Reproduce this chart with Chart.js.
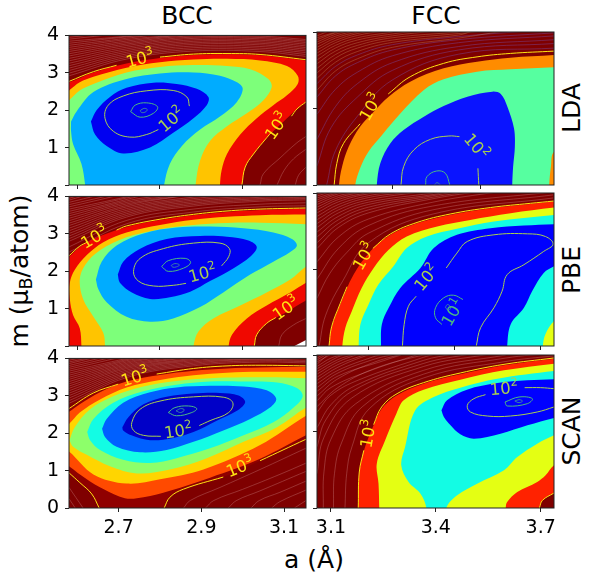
<!DOCTYPE html>
<html><head><meta charset="utf-8">
<script src="https://cdn.jsdelivr.net/npm/chart.js@4"></script>
<style>
html,body{margin:0;padding:0;background:#fff;width:590px;height:576px;overflow:hidden}
canvas{position:absolute}
.t{position:absolute;font-family:"DejaVu Sans";color:#000;white-space:nowrap;line-height:1;transform:translate(-50%,-50%);font-size:25px}
.r{transform:translate(-50%,-50%) rotate(-90deg)}
sub{font-size:.7em;vertical-align:-.25em;line-height:0}
</style></head><body>
<div class="t" style="left:187px;top:15px">BCC</div>
<div class="t" style="left:436px;top:15px">FCC</div>
<div class="t r" style="left:571px;top:108px">LDA</div>
<div class="t r" style="left:571px;top:270px">PBE</div>
<div class="t r" style="left:571px;top:431px">SCAN</div>
<div class="t r" style="left:19px;top:271px">m (μ<sub>B</sub>/atom)</div>
<div class="t" style="left:314px;top:559px">a (Å)</div>
<script>
// ---------- axis ticks ----------
const bccTicksUpper=[2.6,2.8,3.0], bccTicksLower=[2.7,2.9,3.1];
const fccTicksLda=[3.4,3.6], fccTicksPbe=[3.4,3.6,3.8], fccTicksScan=[3.1,3.4,3.7];
const mTicksLeft=[0,1,2,3,4], mTicksRight=[0,2,4];

// ---------- LDA / BCC ----------
const ldaBccRed=[[2.542,2.658],[2.58,2.745],[2.639,3.007],[2.719,3.251],[2.8,3.399],[2.881,3.477],[2.962,3.495],[3.042,3.469],[3.153,3.329],[3.196,3.225],[3.196,2.44],[3.153,2.222],[3.131,2.031],[3.099,1.699],[3.058,1.264],[3.026,.828],[3.006,.479],[2.998,0],[2.994,-.39],[2.542,-.39]];
const ldaBccOrange=[[2.542,2.222],[2.58,2.527],[2.606,2.745],[2.639,2.893],[2.719,3.137],[2.8,3.285],[2.881,3.355],[2.962,3.373],[3.042,3.329],[3.107,3.181],[3.133,2.92],[3.133,2.702],[3.107,2.397],[3.074,2.135],[3.034,1.787],[2.994,1.351],[2.962,.828],[2.949,.392],[2.945,0],[2.944,-.39],[2.542,-.39]];
const ldaBccGreen=[[2.542,1.961],[2.58,2.266],[2.606,2.527],[2.639,2.702],[2.719,3.007],[2.8,3.155],[2.881,3.207],[2.962,3.181],[3.018,3.094],[3.062,2.832],[3.07,2.615],[3.05,2.266],[3.01,1.917],[2.962,1.569],[2.921,1.177],[2.897,.654],[2.886,0],[2.885,-.39],[2.542,-.39]];
const ldaBccSky=[[2.585,1.699],[2.598,1.961],[2.639,2.484],[2.719,2.832],[2.8,2.981],[2.881,3.007],[2.945,2.92],[2.986,2.745],[3.0,2.571],[2.986,2.222],[2.945,1.83],[2.897,1.482],[2.853,1.046],[2.824,.566],[2.81,0],[2.808,-.39],[2.621,-.39],[2.619,0],[2.61,.566],[2.59,1.089],[2.585,1.438]];
const ldaBccBlue=[[2.633,1.699],[2.647,2.004],[2.679,2.353],[2.719,2.597],[2.784,2.737],[2.84,2.702],[2.889,2.571],[2.917,2.353],[2.913,2.135],[2.881,1.787],[2.832,1.394],[2.776,1.002],[2.711,.845],[2.671,1.046],[2.643,1.351]];
const ldaBcc100=[[2.796,1.482],[2.768,1.351],[2.727,1.281],[2.687,1.438],[2.667,1.787],[2.675,2.135],[2.711,2.379],[2.768,2.519],[2.832,2.527],[2.865,2.353],[2.871,2.109]];
const ldaBcc30=[[2.729,1.961],[2.74,2.135],[2.768,2.196],[2.794,2.092],[2.784,1.917],[2.752,1.813],[2.729,1.961]];
const ldaBcc10=[[2.752,1.987],[2.761,2.048],[2.769,2.022],[2.766,1.961],[2.756,1.935],[2.752,1.987]];
const ldaBcc1000=[[[2.58,2.77],[2.639,3.03],[2.695,3.2]],[[2.8,3.42],[2.881,3.5],[2.962,3.515],[3.042,3.49],[3.153,3.35]],[[2.998,0],[3.006,.479],[3.026,.828],[3.058,1.264],[3.07,1.42]],[[3.118,1.84],[3.131,2.031],[3.153,2.222]]];
const ldaBccHigh=[
[[2.58,2.92],[2.72,3.37],[2.88,3.58],[3.04,3.57],[3.153,3.44]],[[2.58,3.06],[2.72,3.46],[2.88,3.67],[3.04,3.66],[3.153,3.54]],
[[2.58,3.19],[2.72,3.55],[2.88,3.76],[3.04,3.75],[3.153,3.63]],[[2.58,3.32],[2.72,3.64],[2.88,3.84],[3.04,3.83],[3.153,3.72]],
[[2.58,3.45],[2.72,3.73],[2.88,3.92],[3.04,3.91],[3.153,3.81]],[[2.58,3.57],[2.72,3.81],[2.88,3.99],[3.04,3.98],[3.153,3.89]],
[[2.58,3.68],[2.72,3.89],[2.85,4.02]],[[2.58,3.79],[2.72,3.96],[2.78,4.02]],[[2.58,3.9],[2.68,4.02]],
[[2.58,2.99],[2.72,3.415],[2.88,3.625],[3.04,3.615],[3.153,3.49]],[[2.58,3.125],[2.72,3.505],[2.88,3.715],[3.04,3.705],[3.153,3.585]],
[[2.58,3.255],[2.72,3.595],[2.88,3.8],[3.04,3.79],[3.153,3.675]],[[2.58,3.385],[2.72,3.685],[2.88,3.88],[3.04,3.87],[3.153,3.765]],
[[2.58,3.51],[2.72,3.77],[2.88,3.955],[3.04,3.945],[3.153,3.85]],[[2.58,3.625],[2.72,3.85],[2.86,4.02]],[[2.58,3.735],[2.72,3.925],[2.8,4.03]],[[2.58,3.845],[2.72,3.98],[2.75,4.03]],[[2.58,3.95],[2.65,4.03]],
[[3.042,0],[3.05,.3],[3.09,.72],[3.13,1.12],[3.153,1.3]],[[3.083,0],[3.1,.39],[3.123,.7],[3.153,.96]],[[3.127,0],[3.135,.26],[3.153,.48]]];

// ---------- LDA / FCC ----------
const ldaFccOrange=[[3.278,-.39],[3.278,0],[3.285,.479],[3.3,1.002],[3.326,1.525],[3.357,1.917],[3.391,2.309],[3.44,2.702],[3.516,3.05],[3.592,3.225],[3.668,3.329],[3.767,3.399],[3.813,3.442],[3.813,-.39]];
const ldaFccMint=[[3.315,-.39],[3.315,0],[3.326,.436],[3.345,.872],[3.376,1.307],[3.418,1.874],[3.471,2.484],[3.516,2.763],[3.592,2.963],[3.668,3.024],[3.767,3.076],[3.813,3.094],[3.813,1.089],[3.767,.872],[3.76,.479],[3.756,0],[3.756,-.39]];
const ldaFccBlue=[[3.364,-.39],[3.364,0],[3.372,.566],[3.395,1.089],[3.425,1.438],[3.471,1.787],[3.516,2.065],[3.57,2.309],[3.627,2.44],[3.646,2.379],[3.661,2.048],[3.676,1.482],[3.678,1.002],[3.674,.479],[3.672,0],[3.672,-.39]];
const ldaFcc100=[[[3.419,0],[3.425,.479],[3.448,.915],[3.486,1.194],[3.528,1.281],[3.552,1.264]],[[3.594,.436],[3.596,0]]];
const ldaFcc30=[[3.475,0],[3.478,.218],[3.5,.366],[3.52,.305],[3.53,0]];
const ldaFcc10=[[3.495,0],[3.501,.061],[3.509,0]];
const ldaFcc1000=[[[3.267,0],[3.273,.56],[3.288,1.08],[3.326,1.6]],[[3.39,2.38],[3.44,2.83],[3.516,3.18],[3.592,3.35],[3.668,3.44],[3.767,3.5]]];
const ldaFccHigh=[
[[3.25,0],[3.27,.9],[3.32,1.8],[3.4,2.75],[3.55,3.42],[3.77,3.58]],[[3.228,.5],[3.26,1.5],[3.32,2.3],[3.4,3.0],[3.55,3.53],[3.77,3.7]],
[[3.228,1.2],[3.27,2.05],[3.32,2.65],[3.4,3.2],[3.55,3.62],[3.77,3.8]],[[3.228,1.85],[3.27,2.5],[3.32,2.95],[3.4,3.38],[3.55,3.72],[3.77,3.9]],
[[3.228,2.3],[3.27,2.85],[3.32,3.2],[3.4,3.53],[3.55,3.8],[3.77,3.98]],[[3.228,2.65],[3.27,3.1],[3.32,3.4],[3.4,3.67],[3.55,3.88],[3.7,4.02]]];
const ldaFccHighTop=[
[[3.228,2.93],[3.27,3.32],[3.32,3.58],[3.4,3.79],[3.55,3.96],[3.6,4.02]],[[3.228,3.17],[3.27,3.5],[3.32,3.72],[3.4,3.9],[3.5,4.03]],
[[3.228,3.37],[3.27,3.65],[3.32,3.85],[3.4,4.0]],[[3.228,3.53],[3.27,3.78],[3.32,3.96],[3.36,4.03]],
[[3.228,3.68],[3.27,3.89],[3.32,4.05]],[[3.228,3.8],[3.27,3.98],[3.29,4.03]],[[3.228,3.9],[3.26,4.05]],
[[3.228,2.48],[3.27,2.98],[3.32,3.3],[3.4,3.6],[3.55,3.84],[3.65,4.02]],[[3.228,2.79],[3.27,3.21],[3.32,3.49],[3.4,3.73],[3.55,3.92],[3.58,4.02]],
[[3.228,3.05],[3.27,3.41],[3.32,3.65],[3.4,3.85],[3.55,4.0]],[[3.228,3.27],[3.27,3.58],[3.32,3.79],[3.4,3.95],[3.46,4.03]],
[[3.228,3.45],[3.27,3.72],[3.32,3.91],[3.38,4.03]],[[3.228,3.6],[3.27,3.84],[3.32,4.0],[3.34,4.03]],[[3.228,3.74],[3.27,3.94],[3.3,4.03]],[[3.228,3.85],[3.28,4.03]]];

// ---------- PBE / BCC ----------
const pbeBccRed=[[2.542,-.39],[2.542,2.126],[2.58,2.386],[2.606,2.646],[2.639,2.863],[2.719,3.184],[2.8,3.367],[2.881,3.497],[2.962,3.584],[3.042,3.636],[3.153,3.67],[3.196,3.688],[3.196,1.432],[3.153,1.215],[3.107,.911],[3.058,.607],[3.034,.304],[3.028,0],[3.026,-.39]];
const pbeBccOrange=[[2.61,-.39],[2.61,0],[2.606,.477],[2.59,.824],[2.582,1.258],[2.582,1.692],[2.594,2.039],[2.623,2.43],[2.663,2.777],[2.719,3.037],[2.8,3.236],[2.881,3.375],[2.962,3.453],[3.042,3.497],[3.153,3.514],[3.196,3.514],[3.196,1.952],[3.153,1.692],[3.115,1.432],[3.058,1.085],[3.01,.738],[2.974,.304],[2.966,0],[2.966,-.39]];
const pbeBccGreen=[[2.667,-.39],[2.667,0],[2.663,.347],[2.639,.781],[2.614,1.258],[2.606,1.779],[2.619,2.169],[2.655,2.56],[2.719,2.907],[2.8,3.124],[2.881,3.236],[2.962,3.289],[3.042,3.297],[3.153,3.254],[3.196,3.21],[3.196,2.43],[3.153,2.126],[3.115,1.779],[3.058,1.432],[2.994,1.085],[2.929,.738],[2.893,.39],[2.881,0],[2.881,-.39]];
const pbeBccSky=[[2.645,1.779],[2.659,2.256],[2.695,2.69],[2.76,3.011],[2.84,3.167],[2.921,3.193],[3.002,3.15],[3.074,3.037],[3.119,2.863],[3.131,2.69],[3.115,2.516],[3.074,2.256],[3.018,1.909],[2.953,1.432],[2.897,1.041],[2.832,.738],[2.776,.651],[2.719,.781],[2.671,1.171],[2.651,1.518]];
const pbeBccBlue=[[2.698,1.909],[2.711,2.256],[2.752,2.603],[2.816,2.863],[2.897,2.941],[2.962,2.924],[3.014,2.82],[3.034,2.646],[3.018,2.386],[2.978,2.082],[2.921,1.735],[2.873,1.449],[2.824,1.302],[2.776,1.258],[2.732,1.432],[2.703,1.692]];
const pbeBccBlank=[[3.153,.16],[3.125,0],[3.153,0]];
const pbeBcc100=[[2.863,1.675],[2.832,1.623],[2.784,1.605],[2.748,1.735],[2.736,1.996],[2.752,2.343],[2.808,2.603],[2.881,2.751],[2.945,2.751],[2.968,2.603],[2.966,2.386],[2.949,2.143]];
const pbeBcc30=[[2.804,2.126],[2.82,2.282],[2.861,2.343],[2.874,2.23],[2.857,2.082],[2.82,1.996],[2.804,2.126]];
const pbeBcc10=[[2.827,2.152],[2.836,2.204],[2.847,2.169],[2.84,2.117],[2.831,2.108],[2.827,2.152]];
const pbeBcc1000=[[[2.58,2.41],[2.606,2.67],[2.625,2.78]],[[2.695,3.1],[2.719,3.21],[2.8,3.39],[2.881,3.52],[2.962,3.61],[3.042,3.66],[3.153,3.69]],[[3.028,0],[3.034,.304],[3.058,.607],[3.08,.76]]];
const pbeBccHigh=[
[[2.58,2.51],[2.72,3.27],[2.88,3.58],[3.04,3.72],[3.153,3.75]],[[2.58,2.65],[2.72,3.36],[2.88,3.66],[3.04,3.79],[3.153,3.83]],
[[2.58,2.8],[2.72,3.45],[2.88,3.74],[3.04,3.87],[3.153,3.91]],[[2.58,2.94],[2.72,3.54],[2.88,3.82],[3.04,3.94],[3.153,3.98]],
[[2.58,3.08],[2.72,3.63],[2.88,3.9],[3.04,4.01],[3.153,4.05]],[[2.58,3.22],[2.72,3.72],[2.88,3.98],[2.95,4.04]],
[[2.58,3.35],[2.72,3.8],[2.88,4.05]],[[2.58,3.48],[2.72,3.88],[2.8,4.02]],[[2.58,3.6],[2.72,3.96],[2.75,4.03]],
[[2.58,3.72],[2.7,4.03]],[[2.58,3.84],[2.65,4.03]],[[2.58,3.95],[2.6,4.01]],
[[2.58,2.87],[2.72,3.495],[2.88,3.78],[3.04,3.905],[3.153,3.945]],[[2.58,3.01],[2.72,3.585],[2.88,3.86],[3.04,3.975],[3.153,4.02]],
[[2.58,3.15],[2.72,3.675],[2.88,3.94],[3.0,4.04]],[[2.58,3.285],[2.72,3.76],[2.86,4.02]],[[2.58,3.415],[2.72,3.84],[2.84,4.03]],
[[2.58,3.54],[2.72,3.92],[2.76,4.03]],[[2.58,3.66],[2.72,3.99],[2.73,4.03]],[[2.58,3.78],[2.68,4.03]],[[2.58,3.9],[2.62,4.03]],
[[3.087,0],[3.095,.304],[3.123,.564],[3.153,.737]]];

// ---------- PBE / FCC ----------
const pbeFccRed=[[3.308,-.39],[3.308,0],[3.314,.477],[3.334,1.085],[3.365,1.866],[3.404,2.473],[3.451,2.907],[3.513,3.21],[3.59,3.427],[3.684,3.601],[3.777,3.714],[3.832,3.775],[3.878,3.818],[3.878,-.39]];
const pbeFccYellow=[[3.339,-.39],[3.339,0],[3.346,.477],[3.361,.911],[3.384,1.518],[3.412,2.039],[3.447,2.516],[3.489,2.863],[3.56,3.124],[3.637,3.297],[3.731,3.471],[3.832,3.618],[3.878,3.67],[3.878,-.39]];
const pbeFccCyan=[[3.377,-.39],[3.377,0],[3.381,.564],[3.4,1.085],[3.423,1.605],[3.458,2.082],[3.489,2.56],[3.536,2.863],[3.606,3.063],[3.692,3.254],[3.832,3.427],[3.878,3.471],[3.878,-.39]];
const pbeFccBlue=[[3.429,-.39],[3.429,0],[3.431,.564],[3.447,.998],[3.474,1.518],[3.521,2.039],[3.552,2.56],[3.606,2.907],[3.684,3.08],[3.762,3.15],[3.832,3.184],[3.878,3.21],[3.878,2.43],[3.832,2.082],[3.808,1.909],[3.781,1.432],[3.762,.998],[3.731,.564],[3.723,0],[3.723,-.39]];
const pbeFccCorner=[[3.806,-.39],[3.806,0],[3.812,.304],[3.832,.651],[3.878,.998],[3.878,-.39]];
const pbeFcc100=[[[3.479,0],[3.483,.564],[3.493,1.041],[3.511,1.302]],[[3.581,2.039],[3.606,2.43],[3.63,2.733],[3.692,2.907],[3.77,2.933],[3.812,2.863],[3.83,2.664],[3.808,2.473],[3.762,2.126],[3.723,1.866],[3.711,1.432],[3.692,.998],[3.661,.477],[3.651,0]]];
const pbeFcc10=[[3.62,1.215],[3.598,1.328],[3.575,1.258],[3.556,.998],[3.556,.738],[3.571,.564]];
const pbeFcc3=[[3.579,1.015],[3.584,1.085],[3.591,1.015],[3.586,.928],[3.579,1.015]];
const pbeFcc1000=[[[3.308,0],[3.314,.5],[3.334,1.11],[3.35,1.55]],[[3.41,2.55],[3.451,2.93],[3.513,3.23],[3.59,3.45],[3.684,3.62],[3.777,3.73],[3.832,3.79]]];
const pbeFccHigh=[
[[3.285,0],[3.3,.8],[3.34,1.7],[3.4,2.7],[3.55,3.45],[3.83,3.87]],[[3.28,1.25],[3.31,1.9],[3.35,2.45],[3.4,2.95],[3.55,3.56],[3.83,3.95]],
[[3.28,1.75],[3.33,2.55],[3.4,3.15],[3.55,3.66],[3.83,4.03]],[[3.28,2.2],[3.33,2.85],[3.4,3.32],[3.55,3.76],[3.7,4.03]],
[[3.28,2.55],[3.33,3.1],[3.4,3.48],[3.55,3.85],[3.65,4.03]],[[3.28,2.85],[3.33,3.3],[3.4,3.63],[3.55,3.93],[3.6,4.03]],
[[3.28,3.1],[3.33,3.48],[3.4,3.76],[3.55,4.0]],[[3.28,3.3],[3.33,3.63],[3.4,3.88],[3.5,4.03]],
[[3.28,3.48],[3.33,3.77],[3.4,3.98],[3.45,4.03]],[[3.28,3.63],[3.33,3.88],[3.4,4.06]],
[[3.28,3.76],[3.33,3.98],[3.36,4.03]],[[3.28,3.87],[3.33,4.05]],[[3.28,3.97],[3.3,4.03]],
[[3.28,2.7],[3.33,3.2],[3.4,3.56],[3.55,3.89],[3.62,4.02]],[[3.28,2.98],[3.33,3.39],[3.4,3.7],[3.55,3.96],[3.58,4.03]],
[[3.28,3.2],[3.33,3.56],[3.4,3.82],[3.52,4.03]],[[3.28,3.39],[3.33,3.7],[3.4,3.93],[3.47,4.03]],[[3.28,3.56],[3.33,3.83],[3.4,4.02]],[[3.28,3.7],[3.33,3.93],[3.38,4.03]],[[3.28,3.82],[3.33,4.02]],[[3.28,3.92],[3.31,4.03]]];

// ---------- SCAN / BCC ----------
const scanBccBand=[[2.542,2.4],[2.58,2.658],[2.639,3.076],[2.699,3.312],[2.792,3.582],[2.881,3.73],[2.962,3.8],[3.042,3.817],[3.153,3.8],[3.196,3.8],[3.196,2.1],[3.153,1.839],[3.042,1.264],[2.953,.828],[2.857,.505],[2.824,.288],[2.81,0],[2.805,-.4],[2.66,-.4],[2.653,0],[2.635,.375],[2.606,.68],[2.58,.941],[2.542,1.2]];
const scanBccRed=[[2.542,2.379],[2.58,2.571],[2.606,2.771],[2.655,3.094],[2.719,3.381],[2.8,3.556],[2.881,3.669],[2.962,3.73],[3.042,3.756],[3.153,3.774],[3.196,3.774],[3.196,2.161],[3.153,1.943],[3.042,1.316],[2.921,.81],[2.824,.462],[2.76,.288],[2.715,.261],[2.663,.505],[2.623,.767],[2.58,1.116],[2.542,1.421]];
const scanBccYellow=[[2.542,1.943],[2.58,2.248],[2.606,2.553],[2.655,2.902],[2.719,3.225],[2.8,3.425],[2.881,3.547],[2.962,3.617],[3.042,3.643],[3.153,3.643],[3.196,3.643],[3.196,2.684],[3.153,2.466],[3.042,1.682],[2.905,1.028],[2.8,.767],[2.719,.654],[2.639,.898],[2.58,1.508],[2.542,1.769]];
const scanBccGreen=[[2.581,1.813],[2.594,2.161],[2.631,2.641],[2.687,2.989],[2.76,3.251],[2.84,3.399],[2.921,3.469],[3.002,3.495],[3.083,3.495],[3.153,3.469],[3.196,3.442],[3.196,2.902],[3.153,2.684],[3.083,2.161],[3.002,1.769],[2.913,1.333],[2.824,1.028],[2.744,.924],[2.679,1.116],[2.623,1.421],[2.59,1.638]];
const scanBccCyan=[[2.624,2.031],[2.639,2.379],[2.687,2.815],[2.76,3.12],[2.84,3.294],[2.921,3.381],[3.002,3.381],[3.083,3.355],[3.131,3.207],[3.145,2.989],[3.123,2.684],[3.074,2.292],[3.002,1.943],[2.921,1.595],[2.84,1.333],[2.776,1.203],[2.711,1.29],[2.655,1.551],[2.631,1.813]];
const scanBccMid=[[2.66,2.118],[2.671,2.379],[2.711,2.815],[2.776,3.094],[2.84,3.225],[2.921,3.268],[3.002,3.251],[3.058,3.146],[3.081,2.919],[3.066,2.684],[3.018,2.379],[2.953,2.074],[2.881,1.769],[2.816,1.551],[2.752,1.49],[2.695,1.638],[2.667,1.9]];
const scanBccNavy=[[2.709,2.161],[2.723,2.423],[2.76,2.771],[2.816,2.972],[2.881,3.059],[2.945,3.076],[2.99,3.007],[3.006,2.832],[2.986,2.597],[2.937,2.336],[2.881,2.031],[2.832,1.874],[2.776,1.813],[2.731,1.943],[2.711,2.074]];
const scanBcc100=[[2.802,1.917],[2.76,1.943],[2.736,2.074],[2.732,2.292],[2.752,2.641],[2.8,2.859],[2.881,2.972],[2.953,2.963],[2.976,2.815],[2.966,2.553],[2.921,2.336],[2.895,2.205]];
const scanBcc30=[[2.82,2.553],[2.836,2.684],[2.869,2.728],[2.889,2.658],[2.877,2.553],[2.84,2.466],[2.82,2.553]];
const scanBcc10=[[2.839,2.597],[2.85,2.658],[2.859,2.623],[2.85,2.553],[2.839,2.597]];
const scanBcc1000=[[[2.58,2.658],[2.639,3.076],[2.699,3.312]],[[2.792,3.582],[2.881,3.73],[2.962,3.8],[3.042,3.817],[3.153,3.8]],[[2.58,.941],[2.606,.68],[2.635,.375],[2.653,0]],[[2.81,0],[2.824,.288],[2.857,.505],[2.953,.828]],[[3.042,1.264],[3.153,1.839]]];
const scanBccHigh=[
[[2.58,2.8],[2.72,3.49],[2.88,3.8],[3.04,3.9],[3.153,3.88]],[[2.58,2.94],[2.72,3.57],[2.88,3.87],[3.04,3.97],[3.153,3.95]],
[[2.58,3.07],[2.72,3.65],[2.88,3.94],[3.04,4.03]],[[2.58,3.2],[2.72,3.73],[2.88,4.01]],[[2.58,3.32],[2.72,3.8],[2.85,4.03]],
[[2.58,3.44],[2.72,3.87],[2.8,4.03]],[[2.58,3.55],[2.72,3.94],[2.76,4.02]],[[2.58,3.66],[2.72,4.0]],[[2.58,3.76],[2.68,4.02]],[[2.58,3.86],[2.64,4.02]],[[2.58,3.95],[2.61,4.02]],
[[2.58,2.87],[2.72,3.53],[2.88,3.835],[3.04,3.935],[3.153,3.915]],[[2.58,3.005],[2.72,3.61],[2.88,3.905],[3.04,4.0]],[[2.58,3.135],[2.72,3.69],[2.88,3.975],[2.95,4.02]],
[[2.58,3.26],[2.72,3.765],[2.86,4.02]],[[2.58,3.38],[2.72,3.835],[2.82,4.02]],[[2.58,3.495],[2.72,3.905],[2.78,4.02]],[[2.58,3.605],[2.72,3.97],[2.74,4.02]],[[2.58,3.71],[2.7,4.02]],[[2.58,3.81],[2.66,4.02]],[[2.58,3.905],[2.63,4.02]],
[[2.857,0],[2.873,.2],[2.945,.55],[3.042,1.03],[3.153,1.6]],[[2.91,0],[2.93,.2],[3.0,.5],[3.09,.9],[3.153,1.2]],[[2.965,0],[2.985,.2],[3.04,.45],[3.153,.98]],[[3.02,0],[3.04,.2],[3.09,.42],[3.153,.72]],[[3.07,0],[3.09,.17],[3.153,.48]],[[3.125,0],[3.153,.2]],
[[2.58,.55],[2.614,0]],[[2.58,.25],[2.595,0]]];

// ---------- SCAN / FCC ----------
const scanFccRed=[[3.178,-.5],[3.178,0],[3.181,.898],[3.193,1.464],[3.222,2.161],[3.245,2.597],[3.289,2.946],[3.365,3.251],[3.47,3.495],[3.595,3.73],[3.738,3.904],[3.796,3.948],[3.796,-.5]];
const scanFccYellow=[[3.238,-.5],[3.238,0],[3.236,.636],[3.231,1.159],[3.255,1.769],[3.287,2.466],[3.308,2.815],[3.365,3.094],[3.47,3.355],[3.595,3.599],[3.738,3.774],[3.796,3.817],[3.796,-.5]];
const scanFccCyan=[[3.373,-.5],[3.373,0],[3.356,.375],[3.322,.68],[3.301,1.116],[3.312,1.595],[3.341,2.553],[3.394,2.902],[3.47,3.146],[3.576,3.381],[3.738,3.582],[3.796,3.617],[3.796,2.161],[3.738,1.9],[3.69,1.682],[3.633,1.333],[3.595,.985],[3.518,.636],[3.461,.331],[3.43,0],[3.43,-.5]];
const scanFccBlue=[[3.416,2.553],[3.432,2.815],[3.489,3.094],[3.576,3.268],[3.662,3.338],[3.738,3.364],[3.796,3.381],[3.796,2.466],[3.738,2.353],[3.662,2.161],[3.585,1.943],[3.509,1.813],[3.47,1.926],[3.442,2.161],[3.423,2.379]];
const scanFccCornerRed=[[3.6,-.5],[3.6,0],[3.604,.157],[3.633,.418],[3.69,.68],[3.714,.854],[3.738,1.116],[3.796,1.421],[3.796,-.5]];
const scanFccCornerDark=[[3.696,-.5],[3.696,0],[3.705,.2],[3.738,.392],[3.796,.549],[3.796,-.5]];
const scanFcc100=[[[3.542,2.963],[3.509,2.859],[3.49,2.684],[3.499,2.51],[3.547,2.405],[3.614,2.405],[3.69,2.51],[3.738,2.641]],[[3.654,3.146],[3.7,3.146],[3.738,3.12]]];
const scanFcc30=[[3.598,2.771],[3.638,2.902],[3.676,2.859],[3.662,2.728],[3.604,2.667],[3.598,2.771]];
const scanFcc10=[[3.626,2.797],[3.638,2.832],[3.648,2.797],[3.638,2.754],[3.626,2.797]];
const scanFcc1000=[[[3.178,0],[3.181,.941],[3.194,1.508]],[[3.222,2.18],[3.245,2.641],[3.289,2.989],[3.365,3.277],[3.47,3.53],[3.595,3.756],[3.738,3.922]],[[3.696,0],[3.705,.2],[3.738,.392]]];
const scanFccHigh=[
[[3.14,0],[3.145,.9],[3.16,1.6],[3.21,2.6],[3.365,3.4],[3.6,3.83],[3.738,3.98]],[[3.107,0],[3.11,.9],[3.13,1.7],[3.19,2.65],[3.365,3.5],[3.6,3.92],[3.738,4.05]],
[[3.078,0],[3.08,.95],[3.1,1.8],[3.17,2.72],[3.365,3.6],[3.6,4.0]],[[3.06,.9],[3.08,1.85],[3.16,2.88],[3.365,3.7],[3.55,4.02]],
[[3.06,1.6],[3.085,2.3],[3.16,3.05],[3.365,3.78],[3.5,4.03]],[[3.06,2.1],[3.1,2.7],[3.17,3.2],[3.365,3.86],[3.45,4.03]],
[[3.06,2.5],[3.1,2.95],[3.18,3.35],[3.365,3.94],[3.4,4.03]],[[3.06,2.8],[3.1,3.15],[3.2,3.55],[3.35,4.02]],
[[3.06,3.05],[3.12,3.45],[3.25,3.85],[3.3,4.0]],[[3.06,3.25],[3.12,3.6],[3.22,3.95],[3.25,4.02]],
[[3.06,3.42],[3.12,3.75],[3.2,4.02]],[[3.06,3.57],[3.12,3.88],[3.17,4.03]],[[3.06,3.7],[3.1,3.92],[3.14,4.03]],[[3.06,3.82],[3.1,4.02]],[[3.06,3.92],[3.08,4.02]],
[[3.06,2.65],[3.12,3.15],[3.22,3.63],[3.35,3.97],[3.4,4.03]],[[3.06,2.93],[3.12,3.38],[3.22,3.8],[3.3,4.02]],[[3.06,3.15],[3.12,3.53],[3.22,3.88],[3.28,4.02]],
[[3.06,3.34],[3.12,3.68],[3.2,3.98],[3.23,4.03]],[[3.06,3.5],[3.12,3.82],[3.18,4.03]],[[3.06,3.64],[3.12,3.95],[3.15,4.03]],[[3.06,3.76],[3.09,4.0]],[[3.06,3.87],[3.09,4.03]]];

// ---------- contour label anchors: [x, y, exponent, rotation] ----------
const ldaBccLabels=[[2.752,3.37,3,-15],[3.083,1.57,3,-55],[2.828,1.74,2,-40]];
const ldaFccLabels=[[3.351,2.03,3,-60],[3.59,1.0,2,50]];
const pbeBccLabels=[[2.642,2.9,3,-30],[3.105,1.0,3,-35],[2.903,1.935,2,-15]];
const pbeFccLabels=[[3.39,2.34,3,-60],[3.536,1.78,2,-50],[3.597,.87,1,-60]];
const scanBccLabels=[[2.74,3.49,3,-18],[2.994,1.09,3,-22],[2.844,2.05,2,-8]];
const scanFccLabels=[[3.207,1.94,3,-80],[3.595,3.12,2,-5]];

// ---------- colours ----------
const DARK='#7f0000',BAND='#900000',RED='#f00800',ORANGE='#ffc400',GREEN='#7dff7a',SKY='#00acff',BLUE='#0000f1',
 DORANGE='#ff8c00',MINT='#56ffa0',BLUE2='#0a14ff',RED2='#ff2200',YEL='#e4ff13',CYAN='#13fce4',BLUE3='#0000ff',
 ORED='#ff4a00',GOLD='#ffd500',LIME='#8dff6a',MIDBLUE='#0060ff',NAVY='#0000c8',
 C1000='#ffe312',C100='#a8d050',C30='#4cb884',C10='#3a7fa8',HIGH='rgba(226,170,170,.42)',HIGHP='rgba(120,70,150,.7)',HIGHT='rgba(205,150,100,.5)';

const fill=(d,c,t=.35)=>({d,c,t,f:true});
const line=(d,c,w=1)=>({d,c,w});
const many=(arr,c,w)=>arr.map(d=>line(d,c,w));

const panels=[
{L:69,T:32,xMin:2.58,xMax:3.153,xT:bccTicksUpper,yT:mTicksLeft,xLab:false,yLab:v=>v===0?'':String(v),lab:ldaBccLabels,
 layers:[...many(ldaBccHigh,HIGH,.7),fill(ldaBccRed,RED),fill(ldaBccOrange,ORANGE),fill(ldaBccGreen,GREEN),fill(ldaBccSky,SKY),fill(ldaBccBlue,BLUE),
 ...many(ldaBcc1000,C1000,1),line(ldaBcc100,C100),line(ldaBcc30,C30),line(ldaBcc10,C10)]},
{L:317,T:32,xMin:3.228,xMax:3.767,xT:fccTicksLda,yT:mTicksRight,xLab:false,yLab:null,lab:ldaFccLabels,
 layers:[...many(ldaFccHigh,HIGHP,.7),...many(ldaFccHighTop,HIGHT,.7),fill(ldaFccOrange,DORANGE),fill(ldaFccMint,MINT),fill(ldaFccBlue,BLUE2),
 ...many(ldaFcc1000,C1000,1),...many(ldaFcc100,C100),line(ldaFcc30,C30),line(ldaFcc10,C10)]},
{L:69,T:193,xMin:2.58,xMax:3.153,xT:bccTicksUpper,yT:mTicksLeft,xLab:false,yLab:v=>v===0?'':String(v),lab:pbeBccLabels,
 layers:[...many(pbeBccHigh,HIGH,.7),fill(pbeBccRed,RED),fill(pbeBccOrange,ORANGE),fill(pbeBccGreen,GREEN),fill(pbeBccSky,SKY),fill(pbeBccBlue,BLUE),fill(pbeBccBlank,'#fff',0),
 ...many(pbeBcc1000,C1000,1),line(pbeBcc100,C100),line(pbeBcc30,C30),line(pbeBcc10,C10)]},
{L:317,T:193,xMin:3.28,xMax:3.832,xT:fccTicksPbe,yT:mTicksRight,xLab:false,yLab:null,lab:pbeFccLabels,
 layers:[...many(pbeFccHigh,HIGH,.7),fill(pbeFccRed,RED2),fill(pbeFccYellow,YEL),fill(pbeFccCyan,CYAN),fill(pbeFccBlue,BLUE3),fill(pbeFccCorner,YEL),
 ...many(pbeFcc1000,C1000,1),...many(pbeFcc100,C100),line(pbeFcc10,C30),line(pbeFcc3,C10)]},
{L:69,T:355,xMin:2.58,xMax:3.153,xT:bccTicksLower,yT:mTicksLeft,xLab:true,yLab:v=>String(v),lab:scanBccLabels,
 layers:[fill(scanBccBand,BAND),...many(scanBccHigh,HIGH,.7),fill(scanBccRed,ORED),fill(scanBccYellow,GOLD),fill(scanBccGreen,LIME),fill(scanBccCyan,CYAN),fill(scanBccMid,MIDBLUE),fill(scanBccNavy,NAVY),
 ...many(scanBcc1000,C1000,1),line(scanBcc100,C100),line(scanBcc30,C30),line(scanBcc10,C10)]},
{L:317,T:355,xMin:3.06,xMax:3.738,xT:fccTicksScan,yT:mTicksRight,xLab:true,yLab:null,lab:scanFccLabels,
 layers:[...many(scanFccHigh,HIGH,.7),fill(scanFccRed,RED2),fill(scanFccYellow,YEL),fill(scanFccCyan,CYAN),fill(scanFccBlue,BLUE3),fill(scanFccCornerRed,RED2),fill(scanFccCornerDark,DARK),
 ...many(scanFcc1000,C1000,1),...many(scanFcc100,C100),line(scanFcc30,C30),line(scanFcc10,C10)]}
];

const W=237,H=153,ML=45,MT=14,MR=8,MB=34;
const frame={id:'frame',
 beforeDatasetsDraw(c){const a=c.chartArea,x=c.ctx;x.save();x.fillStyle=DARK;x.fillRect(a.left,a.top,a.width,a.height);x.restore();},
 afterDraw(c,_,o){const a=c.chartArea,x=c.ctx,sx=c.scales.x,sy=c.scales.y;
  x.save();x.beginPath();x.rect(a.left,a.top,a.width,a.height);x.clip();
  x.textBaseline='middle';
  for(const [vx,vy,e,rot] of o.labels){
   x.save();x.translate(sx.getPixelForValue(vx),sy.getPixelForValue(vy));x.rotate(rot*Math.PI/180);
   x.fillStyle=e===3?C1000:e===2?C100:C30;
   x.font='16.5px "DejaVu Sans"';const w=x.measureText('10').width;
   x.font='11.5px "DejaVu Sans"';const w2=x.measureText(String(e)).width;
   x.textAlign='left';
   x.font='16.5px "DejaVu Sans"';x.fillText('10',-(w+w2)/2,1);
   x.font='11.5px "DejaVu Sans"';x.fillText(String(e),-(w+w2)/2+w,-5);
   x.restore();
  }
  x.restore();
  x.save();x.strokeStyle='#222';x.lineWidth=1;x.strokeRect(a.left,a.top,a.width,a.height);x.restore();
 }};

panels.forEach(p=>{
 const cv=document.createElement('canvas');
 cv.width=W+ML+MR;cv.height=H+MT+MB;
 cv.style.left=(p.L-ML)+'px';cv.style.top=(p.T-MT)+'px';cv.style.width=cv.width+'px';cv.style.height=cv.height+'px';
 document.body.appendChild(cv);
 const datasets=p.layers.map((l,i)=>{
  const closed=l.f&&l.t>0?[...l.d,l.d[0]]:l.d;
  return {data:closed.map(([x,y])=>({x,y})),order:1000-i,showLine:true,pointRadius:0,
   borderWidth:l.f?0:l.w,borderColor:l.c,backgroundColor:l.c,fill:l.f?'shape':false,
   tension:l.t!==undefined?l.t:.4,capBezierPoints:false};
 });
 new Chart(cv,{type:'scatter',data:{datasets},plugins:[frame],options:{
  responsive:false,animation:false,events:[],
  layout:{autoPadding:false,padding:{top:MT,right:MR,left:0,bottom:0}},
  plugins:{legend:{display:false},tooltip:{enabled:false},title:{display:false},frame:{labels:p.lab}},
  scales:{
   x:{type:'linear',min:p.xMin,max:p.xMax,
    afterBuildTicks:s=>{s.ticks=p.xT.map(value=>({value}));},afterFit:s=>{s.height=MB;},
    grid:{drawOnChartArea:false,tickLength:4,color:'#222',lineWidth:1},border:{display:false},
    ticks:{display:p.xLab,autoSkip:false,maxRotation:0,padding:5,color:'#000',font:{family:'DejaVu Sans',size:19},callback:v=>Number(v).toFixed(1)}},
   y:{type:'linear',min:0,max:4,
    afterBuildTicks:s=>{s.ticks=p.yT.map(value=>({value}));},afterFit:s=>{s.width=ML;},
    grid:{drawOnChartArea:false,tickLength:4,color:'#222',lineWidth:1},border:{display:false},
    ticks:{display:!!p.yLab,autoSkip:false,padding:6,color:'#000',font:{family:'DejaVu Sans',size:19},callback:p.yLab||(v=>String(v))}}
  }}});
});
</script>
</body></html>
